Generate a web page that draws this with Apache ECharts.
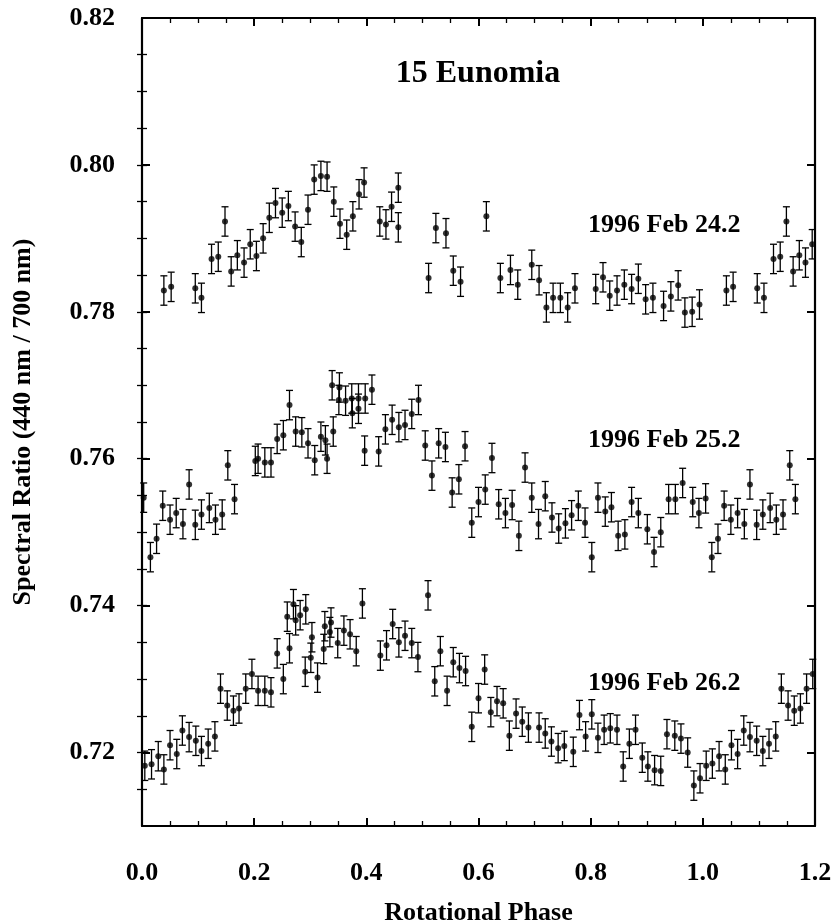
<!DOCTYPE html>
<html>
<head>
<meta charset="utf-8">
<title>15 Eunomia</title>
<script src="https://cdn.jsdelivr.net/npm/echarts@6/dist/echarts.min.js"></script>
<style>
  html, body { margin: 0; padding: 0; background: #fff; }
  #chart { width: 835px; height: 924px; }
</style>
</head>
<body>
<div id="chart"></div>
<script>
// Rotational phase and spectral ratio for each night (phase > 1 repeats the cycle)
const phase24 = [0.039,0.052,0.095,0.106,0.124,0.136,0.148,0.159,0.170,0.182,0.193,0.204,0.216,0.227,0.238,0.250,0.261,0.273,0.284,0.296,0.307,0.319,0.330,0.342,0.353,0.365,0.376,0.387,0.396,0.424,0.435,0.445,0.457,0.457,0.511,0.524,0.542,0.555,0.568,0.614,0.639,0.657,0.670,0.695,0.708,0.721,0.733,0.746,0.759,0.772,0.809,0.822,0.834,0.847,0.860,0.873,0.885,0.898,0.911,0.930,0.943,0.956,0.968,0.981,0.994,1.042,1.054,1.097,1.109,1.126,1.138,1.149,1.161,1.172,1.183,1.195];
const ratio24 = [0.7829,0.7834,0.7832,0.7819,0.7872,0.7875,0.7923,0.7855,0.7877,0.7867,0.7892,0.7876,0.7900,0.7928,0.7948,0.7935,0.7944,0.7916,0.7895,0.7939,0.7980,0.7985,0.7984,0.7950,0.7920,0.7905,0.7930,0.7960,0.7976,0.7923,0.7919,0.7943,0.7969,0.7915,0.7846,0.7914,0.7907,0.7856,0.7841,0.7930,0.7846,0.7857,0.7837,0.7864,0.7843,0.7806,0.7819,0.7819,0.7806,0.7832,0.7831,0.7847,0.7822,0.7829,0.7837,0.7831,0.7845,0.7817,0.7819,0.7808,0.7821,0.7836,0.7799,0.7800,0.7810,0.7829,0.7834,0.7832,0.7819,0.7872,0.7875,0.7923,0.7855,0.7877,0.7867,0.7892];

const phase25 = [0.003,0.015,0.026,0.037,0.050,0.061,0.073,0.084,0.095,0.106,0.120,0.131,0.143,0.153,0.165,0.202,0.207,0.219,0.230,0.241,0.252,0.263,0.274,0.285,0.296,0.308,0.319,0.327,0.330,0.341,0.339,0.352,0.351,0.363,0.374,0.375,0.386,0.386,0.398,0.397,0.410,0.422,0.434,0.446,0.458,0.469,0.481,0.493,0.505,0.517,0.529,0.541,0.553,0.565,0.576,0.588,0.600,0.612,0.624,0.636,0.648,0.660,0.672,0.683,0.695,0.707,0.719,0.731,0.743,0.755,0.766,0.778,0.790,0.802,0.813,0.826,0.837,0.849,0.861,0.873,0.885,0.901,0.913,0.925,0.939,0.951,0.964,0.982,0.993,1.005,1.016,1.027,1.038,1.050,1.062,1.074,1.084,1.096,1.107,1.120,1.131,1.143,1.155,1.165];
const ratio25 = [0.7547,0.7466,0.7491,0.7536,0.7517,0.7526,0.7511,0.7565,0.7510,0.7524,0.7533,0.7517,0.7524,0.7591,0.7545,0.7597,0.7600,0.7595,0.7595,0.7627,0.7632,0.7673,0.7637,0.7636,0.7621,0.7598,0.7630,0.7625,0.7600,0.7637,0.7700,0.7697,0.7680,0.7679,0.7682,0.7662,0.7682,0.7668,0.7682,0.7611,0.7694,0.7610,0.7640,0.7653,0.7643,0.7646,0.7661,0.7680,0.7618,0.7577,0.7621,0.7616,0.7554,0.7572,0.7617,0.7513,0.7541,0.7558,0.7601,0.7538,0.7526,0.7537,0.7495,0.7588,0.7547,0.7511,0.7549,0.7520,0.7505,0.7512,0.7523,0.7536,0.7513,0.7466,0.7547,0.7528,0.7534,0.7495,0.7497,0.7541,0.7526,0.7504,0.7473,0.7500,0.7545,0.7545,0.7567,0.7541,0.7526,0.7546,0.7466,0.7491,0.7536,0.7517,0.7526,0.7511,0.7565,0.7510,0.7524,0.7533,0.7517,0.7524,0.7591,0.7545];

const phase26 = [0.005,0.017,0.029,0.039,0.050,0.062,0.072,0.084,0.096,0.106,0.118,0.130,0.140,0.152,0.163,0.173,0.185,0.196,0.207,0.219,0.230,0.241,0.252,0.263,0.259,0.270,0.274,0.282,0.292,0.291,0.301,0.303,0.313,0.324,0.326,0.335,0.337,0.349,0.360,0.371,0.382,0.393,0.510,0.425,0.436,0.447,0.458,0.469,0.481,0.492,0.522,0.532,0.544,0.555,0.566,0.577,0.588,0.600,0.611,0.622,0.633,0.644,0.655,0.667,0.678,0.689,0.708,0.719,0.730,0.742,0.753,0.769,0.780,0.791,0.802,0.813,0.824,0.835,0.847,0.858,0.869,0.880,0.892,0.902,0.914,0.925,0.936,0.950,0.961,0.973,0.984,0.995,1.006,1.017,1.029,1.040,1.051,1.062,1.073,1.084,1.096,1.107,1.118,1.130,1.140,1.152,1.163,1.174,1.185,1.196];
const ratio26 = [0.7182,0.7184,0.7195,0.7177,0.7210,0.7198,0.7230,0.7221,0.7216,0.7202,0.7212,0.7222,0.7287,0.7264,0.7257,0.7260,0.7287,0.7307,0.7284,0.7284,0.7282,0.7335,0.7300,0.7342,0.7385,0.7402,0.7380,0.7387,0.7395,0.7310,0.7329,0.7357,0.7302,0.7341,0.7372,0.7364,0.7377,0.7349,0.7366,0.7361,0.7338,0.7403,0.7414,0.7332,0.7346,0.7375,0.7350,0.7359,0.7349,0.7330,0.7297,0.7338,0.7284,0.7323,0.7315,0.7311,0.7235,0.7274,0.7313,0.7255,0.7270,0.7267,0.7223,0.7253,0.7242,0.7234,0.7234,0.7226,0.7215,0.7206,0.7209,0.7201,0.7251,0.7222,0.7252,0.7220,0.7231,0.7233,0.7231,0.7181,0.7212,0.7231,0.7193,0.7181,0.7176,0.7175,0.7225,0.7223,0.7219,0.7200,0.7155,0.7165,0.7182,0.7185,0.7195,0.7177,0.7210,0.7198,0.7230,0.7221,0.7216,0.7202,0.7212,0.7222,0.7287,0.7264,0.7257,0.7260,0.7287,0.7307];

// One-sigma uncertainty of the ratio
const ratioError = 0.002;

const nights = ['1996 Feb 24.2', '1996 Feb 25.2', '1996 Feb 26.2'];
const titleText = '15 Eunomia';
const xName = 'Rotational Phase';
const yName = 'Spectral Ratio (440 nm / 700 nm)';

const yMajorTicks = [0.72, 0.74, 0.76, 0.78, 0.80, 0.82];
const yMinorTicks = [0.715,0.72,0.725,0.73,0.735,0.74,0.745,0.75,0.755,0.76,0.765,0.77,0.775,0.78,0.785,0.79,0.795,0.80,0.805,0.81,0.815];

const FONT = '"Liberation Serif", "Times New Roman", serif';
const INK = '#000';

function pairs(xs, ys) {
  return xs.map((x, i) => [x, ys[i]]);
}

function errorBarSeries(xs, ys) {
  return {
    type: 'custom',
    xAxisIndex: 0,
    yAxisIndex: 0,
    silent: true,
    data: xs.map((x, i) => [x, ys[i] - ratioError, ys[i] + ratioError]),
    renderItem: function (params, api) {
      const lo = api.coord([api.value(0), api.value(1)]);
      const hi = api.coord([api.value(0), api.value(2)]);
      const cap = 3.5;
      const style = { stroke: INK, lineWidth: 1.3 };
      return {
        type: 'group',
        children: [
          { type: 'line', shape: { x1: lo[0], y1: lo[1], x2: hi[0], y2: hi[1] }, style: style },
          { type: 'line', shape: { x1: lo[0] - cap, y1: lo[1], x2: lo[0] + cap, y2: lo[1] }, style: style },
          { type: 'line', shape: { x1: hi[0] - cap, y1: hi[1], x2: hi[0] + cap, y2: hi[1] }, style: style }
        ]
      };
    }
  };
}

function pointSeries(xs, ys, name) {
  return {
    type: 'scatter',
    name: name,
    xAxisIndex: 0,
    yAxisIndex: 0,
    symbol: 'circle',
    symbolSize: 6,
    itemStyle: { color: INK },
    silent: true,
    data: pairs(xs, ys)
  };
}

const labelFont = { fontFamily: FONT, fontWeight: 'bold', fontSize: 26, color: INK };
const nameFont = { fontFamily: FONT, fontWeight: 'bold', fontSize: 26, color: INK };

function xAxisDef(pos, showLabels) {
  return {
    type: 'value',
    position: pos,
    min: 0, max: 1.2, interval: 0.2,
    axisLine: { show: true, onZero: false, lineStyle: { color: INK, width: 2.2 } },
    axisTick: { show: true, inside: true, length: 8, lineStyle: { color: INK, width: 2 } },
    minorTick: { show: true, splitNumber: 4, length: 5, lineStyle: { color: INK, width: 1.3 } },
    splitLine: { show: false },
    minorSplitLine: { show: false },
    axisLabel: Object.assign({ show: showLabels, margin: 34, formatter: v => v.toFixed(1) }, labelFont),
    name: showLabels ? xName : '',
    nameLocation: 'middle',
    nameGap: 74,
    nameTextStyle: nameFont
  };
}

function yMajorDef(pos, showLabels) {
  return {
    type: 'value',
    position: pos,
    min: 0.71, max: 0.82,
    axisLine: { show: true, onZero: false, lineStyle: { color: INK, width: 2.2 } },
    axisTick: { show: true, inside: true, length: 8, customValues: yMajorTicks, lineStyle: { color: INK, width: 2 } },
    splitLine: { show: false },
    axisLabel: Object.assign({ show: showLabels, margin: 27, customValues: yMajorTicks, formatter: v => v.toFixed(2) }, labelFont),
    name: showLabels ? yName : '',
    nameLocation: 'middle',
    nameGap: 106,
    nameRotate: 90,
    nameTextStyle: nameFont
  };
}

function yMinorDef(pos) {
  return {
    type: 'value',
    position: pos,
    min: 0.71, max: 0.82,
    axisLine: { show: false },
    axisTick: { show: true, inside: true, length: 5, customValues: yMinorTicks, lineStyle: { color: INK, width: 1.3 } },
    splitLine: { show: false },
    axisLabel: { show: false }
  };
}

const chart = echarts.init(document.getElementById('chart'), null, { renderer: 'canvas' });

chart.setOption({
  backgroundColor: '#fff',
  animation: false,
  grid: { left: 142, top: 18, width: 673, height: 808, containLabel: false, outerBoundsMode: 'none' },
  xAxis: [xAxisDef('bottom', true), xAxisDef('top', false)],
  yAxis: [yMajorDef('left', true), yMinorDef('left'), yMajorDef('right', false), yMinorDef('right')],
  series: [
    errorBarSeries(phase24, ratio24), pointSeries(phase24, ratio24, nights[0]),
    errorBarSeries(phase25, ratio25), pointSeries(phase25, ratio25, nights[1]),
    errorBarSeries(phase26, ratio26), pointSeries(phase26, ratio26, nights[2])
  ],
  graphic: [
    { type: 'text', x: 478, y: 74, style: { text: titleText, textAlign: 'center', textVerticalAlign: 'middle', font: 'bold 32px ' + FONT, fill: INK } },
    { type: 'text', x: 588, y: 225, style: { text: nights[0], textAlign: 'left', textVerticalAlign: 'middle', font: 'bold 26px ' + FONT, fill: INK } },
    { type: 'text', x: 588, y: 440, style: { text: nights[1], textAlign: 'left', textVerticalAlign: 'middle', font: 'bold 26px ' + FONT, fill: INK } },
    { type: 'text', x: 588, y: 683, style: { text: nights[2], textAlign: 'left', textVerticalAlign: 'middle', font: 'bold 26px ' + FONT, fill: INK } }
  ]
});
</script>
</body>
</html>
